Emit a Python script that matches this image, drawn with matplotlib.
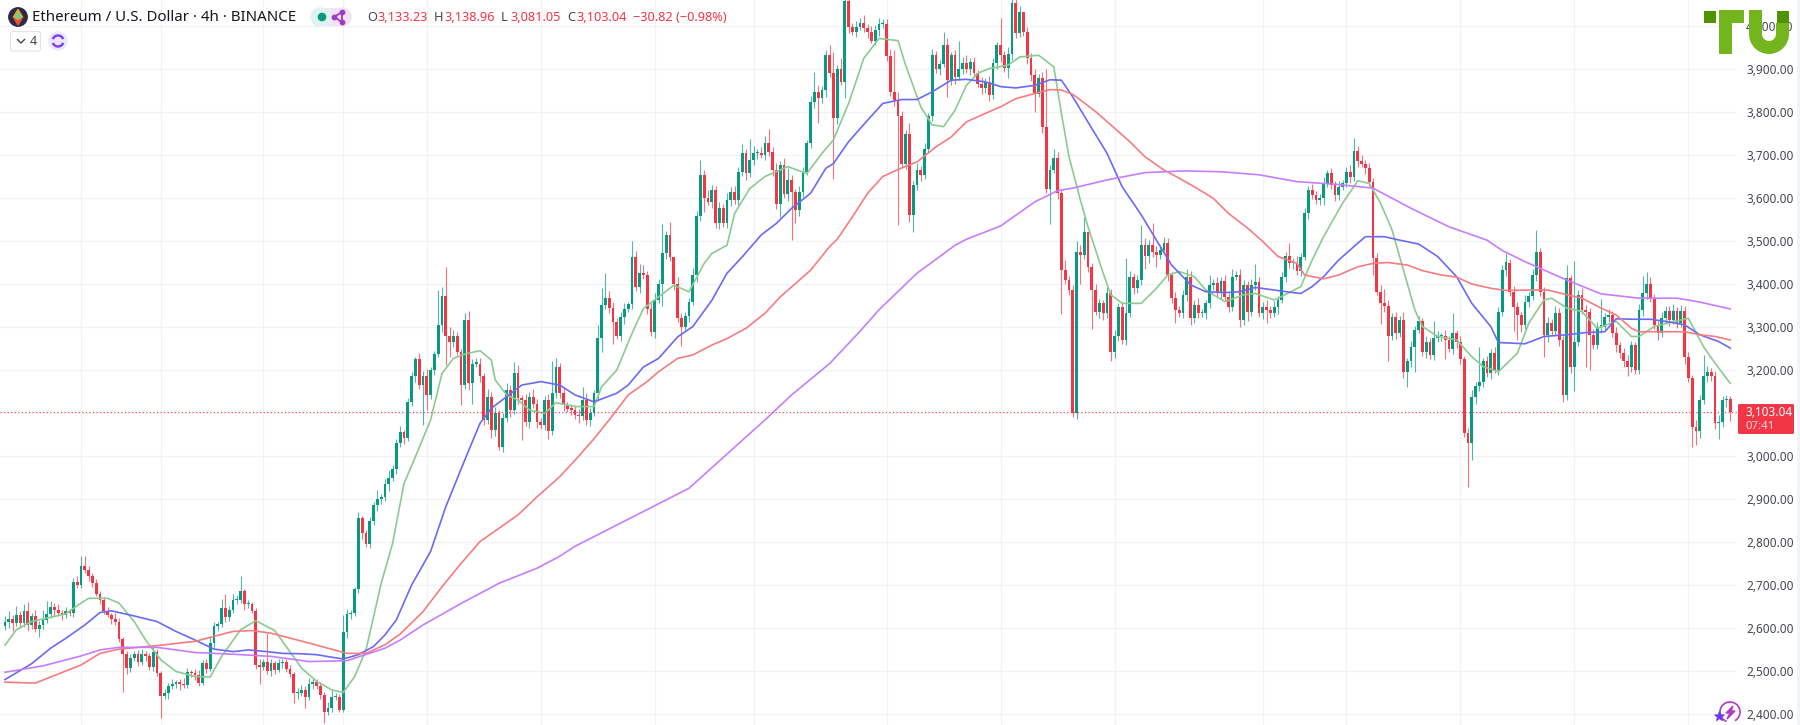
import matplotlib
matplotlib.use('Agg')
import matplotlib.pyplot as plt
from matplotlib import patches
import numpy as np

plt.rcParams['font.family'] = ['Noto Sans', 'DejaVu Sans']

# Candle closes by bar, open is the close before
closes = [
    2615,2622,2612,2630,2612,2640,2608,2628,2598,2608,
    2618,2632,2650,2642,2636,2630,2640,2636,2708,2700,
    2745,2735,2722,2705,2680,2665,2640,2630,2622,2615,
    2575,2540,2507,2530,2540,2520,2540,2535,2510,2545,
    2495,2442,2448,2465,2470,2475,2470,2467,2497,2495,
    2490,2473,2519,2505,2565,2605,2610,2646,2625,2642,
    2665,2665,2685,2655,2655,2640,2515,2510,2520,2500,
    2518,2503,2518,2522,2505,2492,2448,2450,2455,2440,
    2470,2475,2465,2445,2405,2415,2440,2440,2410,2590,
    2632,2635,2690,2855,2820,2795,2848,2885,2900,2905,
    2935,2950,2970,3030,3055,3042,3126,3185,3225,3165,
    3185,3142,3200,3238,3305,3372,3280,3265,3280,3243,
    3165,3316,3169,3215,3215,3185,3084,3138,3060,3100,
    3022,3088,3154,3107,3192,3135,3130,3080,3138,3120,
    3080,3072,3130,3057,3146,3208,3146,3119,3110,3108,
    3096,3092,3130,3084,3100,3146,3274,3352,3367,3345,
    3312,3280,3324,3343,3353,3463,3393,3425,3420,3343,
    3289,3363,3401,3471,3515,3463,3400,3320,3300,3325,
    3359,3421,3557,3654,3600,3591,3618,3541,3576,3541,
    3595,3615,3595,3661,3704,3657,3688,3704,3704,3700,
    3727,3708,3665,3587,3677,3610,3642,3615,3572,3615,
    3661,3727,3824,3847,3832,3851,3933,3890,3785,3900,
    3870,4057,3998,3987,3998,4006,3995,3987,3964,3991,
    4005,4005,3930,3847,3828,3790,3680,3750,3560,3630,
    3665,3653,3715,3790,3932,3900,3912,3955,3874,3932,
    3882,3900,3913,3900,3917,3890,3866,3855,3870,3840,
    3913,3955,3933,3902,3936,4053,3983,4033,3987,3925,
    3885,3843,3878,3766,3622,3665,3692,3611,3433,3410,
    3386,3099,3475,3468,3522,3440,3386,3335,3355,3332,
    3378,3243,3278,3347,3270,3332,3417,3390,3410,3491,
    3464,3491,3475,3468,3480,3495,3421,3367,3340,3332,
    3375,3417,3320,3351,3332,3332,3355,3398,3402,3378,
    3406,3370,3347,3417,3420,3316,3398,3336,3397,3405,
    3332,3347,3340,3332,3347,3363,3417,3464,3448,3448,
    3430,3463,3565,3619,3607,3595,3600,3634,3657,3630,
    3607,3626,3634,3661,3650,3710,3685,3680,3669,3638,
    3460,3382,3355,3349,3278,3324,3285,3316,3196,3220,
    3254,3293,3313,3243,3265,3235,3274,3278,3278,3270,
    3250,3285,3266,3225,3053,3030,3138,3162,3173,3220,
    3192,3240,3200,3336,3433,3450,3382,3347,3328,3305,
    3359,3371,3421,3475,3382,3282,3309,3290,3332,3270,
    3142,3413,3208,3266,3375,3340,3336,3282,3258,3301,
    3301,3324,3328,3285,3258,3239,3220,3208,3258,3200,
    3340,3378,3400,3367,3305,3285,3320,3338,3316,3338,
    3309,3338,3231,3181,3068,3057,3130,3185,3196,3185,
    3076,3080,3130,3133,3103,
]
first_open = 2605

# Ordinary wick sizes, one row for each twenty bars
wick_up = [
    12,18,8,22,10,15,20,6,14,9, 25,30,12,8,14,6,10,5,8,12,
    8,22,10,6,8,5,7,9,6,12, 8,5,6,10,7,9,12,6,8,14,
    6,4,10,8,12,5,7,14,9,6, 10,12,6,9,14,8,5,22,10,9,
    14,12,8,6,10,5,7,12,8,5, 10,6,9,5,7,8,6,10,12,9,
    14,8,6,10,7,12,15,9,6,40, 12,8,5,14,6,8,10,9,22,7,
    12,18,8,10,14,6,8,10,6,14, 12,18,8,6,15,10,12,20,14,8,
    6,16,9,10,14,12,8,18,10,14, 8,12,16,10,12,20,8,14,10,18,
    12,9,10,14,16,20,8,12,6,10, 10,14,8,16,12,8,30,12,10,16,
    14,8,10,12,6,12,14,8,20,10, 12,15,10,18,8,14,10,16,12,10,
    9,16,12,14,10,18,12,9,14,10, 16,10,14,12,8,10,12,16,9,14,
    8,12,10,16,9,15,10,12,6,14, 10,8,14,9,16,10,12,8,14,10,
    12,16,8,10,14,12,18,10,14,12, 14,8,12,16,10,18,12,9,14,10,
    16,10,12,8,14,9,10,12,16,8, 12,10,14,20,9,12,8,16,10,14,
    12,8,14,10,16,9,12,14,8,10, 12,16,10,14,8,12,10,14,9,12,
    8,12,14,10,12,16,8,14,10,8, 14,10,16,8,12,10,14,9,12,10,
    16,12,8,14,10,9,12,8,14,10, 12,10,14,12,16,9,8,12,10,14,
    10,14,8,12,10,16,12,9,14,8, 12,10,16,9,14,8,12,10,14,12,
    16,8,12,10,14,9,10,14,8,12, 10,14,9,12,16,8,10,14,8,12,
    9,12,16,10,14,8,12,10,16,9, 14,10,12,8,14,10,16,12,8,14,
    10,12,9,14,8,12,16,10,14,9, 12,8,14,10,12,16,9,14,10,8,
    16,10,14,12,8,10,14,9,16,12, 10,14,8,12,10,16,12,8,14,10,
    12,9,14,10,16,8,12,14,10,8, 14,12,9,16,10,8,14,12,10,16,
    9,14,10,12,8,16,12,10,14,8, 12,16,10,8,14,
]
wick_dn = [
    10,14,20,8,12,9,16,11,7,18, 10,6,8,14,9,12,6,8,10,6,
    8,7,12,9,6,10,8,5,12,9, 8,6,14,10,7,9,5,12,8,10,
    7,10,6,12,8,9,14,7,6,10, 12,8,6,10,5,9,12,7,10,8,
    6,9,7,12,8,6,10,14,8,7, 12,9,6,10,8,7,6,12,9,10,
    8,12,6,9,14,7,10,8,12,6, 14,10,8,9,12,6,10,8,14,12,
    9,16,8,12,10,14,8,10,12,9, 14,8,10,12,8,16,14,10,12,8,
    12,10,16,12,8,14,12,10,18,14, 9,12,8,16,10,14,12,10,16,8,
    14,10,12,18,9,12,10,14,8,12, 10,16,9,12,14,8,18,14,10,12,
    14,9,12,16,8,12,10,14,9,12, 10,14,8,16,12,10,14,8,12,10,
    14,8,16,10,12,8,14,10,12,9, 10,14,8,12,10,16,9,12,14,8,
    12,10,14,8,12,9,16,10,8,14, 12,8,10,14,9,12,16,8,10,14,
    8,12,14,9,12,8,10,16,12,8, 14,10,12,9,14,8,10,12,16,9,
    12,14,8,10,12,9,14,8,10,12, 16,8,12,10,14,9,8,12,10,14,
    9,12,16,8,10,14,12,8,10,14, 12,9,8,14,10,12,8,14,10,9,
    12,8,14,10,9,12,14,8,10,16, 12,8,14,10,9,12,8,14,10,12,
    8,14,12,10,9,8,14,12,10,8, 12,14,9,10,12,8,14,10,12,9,
    14,8,12,10,8,14,12,9,10,12, 8,14,10,12,9,16,8,12,10,14,
    10,12,8,14,9,10,12,16,8,10, 14,12,8,9,14,10,12,8,14,10,
    16,8,12,14,10,8,12,9,14,10, 12,16,8,10,14,9,12,8,10,14,
    8,12,14,10,9,12,8,16,10,12, 9,14,8,12,10,14,9,12,8,16,
    10,12,8,14,10,12,16,9,8,14, 10,12,14,8,10,9,16,12,8,10,
    14,9,12,8,16,10,14,8,12,10, 9,14,12,8,10,16,8,12,14,10,
    12,8,16,10,12,9,14,8,12,10, 14,8,12,16,9,
]

# Bars with a long wick, read one by one
tall_high_bars = [20,58,62,69,89,114,115,116,121,122,134,144,152,157,158,165,167,173,175,176,
                  183,194,196,200,201,206,213,216,217,218,220,226,231,234,238,247,251,262,268,274,
                  276,279,282,283,284,285,295,299,302,305,311,317,323,329,338,355,363,368,376,381,
                  388,395,403,411,413,420,431,432,447,454]
tall_high_vals = [2768,2680,2722,2588,2630,3386,3394,3440,3332,3337,3218,3222,3160,3390,3425,3500,3447,3540,3545,3445,
                  3688,3725,3737,3745,3760,3670,3893,3945,3955,3940,3925,4025,4017,3945,3775,3985,3965,4018,4020,3900,
                  3715,3455,3500,3490,3555,3465,3460,3538,3543,3510,3435,3420,3434,3447,3495,3740,3388,3336,3315,3333,
                  3253,3473,3525,3445,3453,3365,3418,3428,3234,3139]
tall_low_bars = [31,41,67,76,79,84,88,110,111,116,117,120,123,136,157,160,173,178,184,187,
                 203,204,207,208,214,218,221,228,235,239,248,264,271,275,278,283,286,288,291,300,
                 303,308,312,325,327,332,360,362,364,369,371,379,385,386,397,398,405,410,413,416,
                 417,427,444,445,451,454]
tall_low_vals = [2452,2390,2470,2425,2415,2378,2405,3072,3107,3212,3230,3118,3120,3037,3243,3260,3350,3255,3568,3530,
                 3575,3555,3503,3543,3775,3645,3832,3960,3537,3520,3835,3880,3800,3540,3330,3400,3295,3320,3220,3435,
                 3440,3310,3305,3300,3315,3310,3420,3308,3220,3160,3195,3225,2928,2990,3290,3270,3230,3125,3152,3208,
                 3200,3186,3020,3025,3040,3081]

# Moving averages, read at these bars
ma20_bars = [0,3,7,12,16,20,22,27,30,34,37,41,45,50,54,57,62,66,71,74,78,82,86,89,92,95,99,102,105,108,
             112,115,118,121,125,128,129,132,135,138,142,145,150,155,157,161,165,168,172,176,180,184,186,190,192,196,200,206,211,215,
             218,222,226,230,235,237,241,244,247,250,253,256,259,264,267,272,276,278,280,283,285,287,289,291,294,299,303,306,309,313,
             316,321,326,329,334,336,341,344,347,350,352,356,359,362,365,368,371,373,377,382,386,389,393,398,401,405,407,411,415,419,
             424,428,430,434,439,443,447,450,454]
ma20_vals = [2560,2596,2615,2625,2633,2658,2669,2669,2658,2615,2572,2526,2499,2487,2486,2534,2596,2617,2594,2557,2507,2476,2456,2450,2487,2549,2704,2797,2936,2998,
             3084,3192,3227,3237,3245,3223,3177,3142,3130,3107,3099,3124,3115,3115,3161,3200,3285,3343,3370,3397,3382,3448,3471,3490,3564,3622,3650,3673,3657,3704,
             3735,3820,3925,3971,3966,3909,3812,3770,3766,3804,3862,3890,3901,3909,3928,3932,3905,3797,3696,3595,3533,3479,3425,3375,3355,3355,3390,3421,3429,3417,
             3386,3359,3375,3378,3363,3371,3394,3456,3510,3557,3588,3640,3634,3588,3526,3433,3340,3301,3278,3270,3231,3208,3196,3239,3309,3363,3367,3344,3336,3297,
             3313,3278,3278,3301,3313,3320,3254,3216,3169]
ma50_bars = [0,7,12,16,21,25,28,34,40,45,50,55,60,64,69,73,78,82,86,89,93,97,100,103,107,112,116,121,125,128,
             132,136,141,146,150,155,161,164,168,172,177,181,186,190,194,199,203,207,212,216,218,222,227,231,236,240,244,249,253,258,
             262,266,271,275,278,281,286,290,294,299,303,307,312,316,321,325,329,334,338,341,344,347,351,356,358,363,367,372,377,382,
             386,391,393,400,405,411,416,421,424,429,433,437,442,446,451,454]
ma50_vals = [2480,2517,2553,2576,2607,2636,2640,2628,2615,2592,2572,2551,2545,2549,2545,2541,2540,2538,2532,2528,2538,2557,2584,2619,2700,2778,2882,2991,3076,3111,
             3138,3165,3173,3165,3142,3126,3146,3165,3207,3227,3277,3301,3362,3425,3463,3514,3541,3576,3611,3669,3680,3731,3781,3820,3829,3829,3847,3874,3876,3870,
             3859,3856,3862,3875,3874,3835,3762,3704,3626,3561,3502,3444,3398,3382,3380,3382,3392,3386,3381,3378,3394,3417,3456,3495,3510,3510,3502,3493,3464,3417,
             3355,3301,3264,3261,3278,3282,3287,3289,3319,3318,3318,3313,3305,3282,3266,3251]
ma100_bars = [0,8,20,25,30,40,50,60,65,70,80,90,95,100,104,110,115,120,125,130,135,140,146,150,155,159,164,169,172,177,
              181,186,190,195,200,204,208,212,217,219,223,227,231,236,240,245,249,253,257,262,266,271,275,278,281,283,287,291,296,300,
              305,309,313,318,322,327,331,335,340,342,347,351,356,360,364,369,373,378,382,386,391,395,402,406,411,415,420,424,428,430,
              437,442,446,450,454]
ma100_vals = [2474,2472,2514,2541,2551,2559,2569,2592,2594,2588,2565,2541,2541,2561,2586,2638,2696,2750,2801,2832,2863,2905,2952,2990,3040,3084,3142,3173,3196,3227,
              3235,3258,3273,3297,3332,3370,3401,3432,3487,3504,3556,3611,3650,3670,3684,3719,3742,3777,3793,3812,3831,3843,3852,3851,3841,3828,3801,3770,3731,3696,
              3665,3646,3626,3599,3564,3530,3499,3464,3448,3421,3412,3421,3440,3448,3450,3444,3431,3421,3416,3400,3390,3385,3386,3386,3375,3367,3344,3328,3297,3289,
              3289,3289,3282,3278,3270]
ma200_bars = [0,10,20,25,30,40,50,60,70,80,90,100,104,110,120,130,140,146,150,180,200,207,217,225,230,240,250,253,262,271,
              277,281,290,300,310,320,330,340,350,360,370,380,390,394,400,410,420,430,440,446,454]
ma200_vals = [2497,2512,2535,2549,2555,2555,2543,2539,2534,2522,2524,2553,2572,2607,2657,2704,2739,2767,2790,2925,3084,3142,3215,3290,3340,3425,3490,3504,3535,3591,
              3617,3623,3642,3659,3663,3661,3654,3638,3632,3623,3576,3533,3502,3478,3452,3413,3377,3367,3367,3358,3342]

price_ticks = [2400,2500,2600,2700,2800,2900,3000,3100,3200,3300,3400,3500,3600,3700,3800,3900,4000]
grid_bars = [20,41,68,89,111,141,171,197,232,262,292,331,353,383,413,443]
last_price = 3103.04

UP = '#089981'
DOWN = '#F23645'
GRID = '#F2F3F5'
TEXT = '#434651'

closes = np.array(closes, dtype=float)
opens = np.r_[first_open, closes[:-1]]
highs = np.maximum(opens, closes) + np.array(wick_up[:len(closes)])
lows = np.minimum(opens, closes) - np.array(wick_dn[:len(closes)])
highs[tall_high_bars] = tall_high_vals
lows[tall_low_bars] = tall_low_vals
bars = np.arange(len(closes))
cols = np.where(closes >= opens, UP, DOWN)

fig = plt.figure(figsize=(18, 7.25), dpi=100, facecolor='white')
ax = fig.add_axes([0, 0, 1737/1800, 1])
ax.set_xlim(-5/3.8, 1732/3.8)
ax.set_ylim(3900 - 656/0.43, 3900 + 69/0.43)
for s in ax.spines.values():
    s.set_visible(False)
ax.yaxis.tick_right()
# the price tag covers the 3,100 label
ax.set_yticks(price_ticks, ['' if p == 3100 else f'{p:,.2f}' for p in price_ticks])
ax.set_xticks(grid_bars, [])
ax.tick_params(length=0, pad=6.5, labelsize=8.5, labelcolor=TEXT)
ax.grid(True, color=GRID, lw=0.9)
ax.set_axisbelow(True)

# candles
ax.vlines(bars, lows, highs, colors=cols, lw=0.8, alpha=0.7, zorder=2)
ax.bar(bars, np.maximum(np.abs(closes-opens), 2.5), bottom=np.minimum(opens, closes),
       width=0.76, color=cols, lw=0, zorder=3)

# moving averages
ax.plot(ma20_bars, ma20_vals, color='#8CCB90', lw=1.2, zorder=4)
ax.plot(ma50_bars, ma50_vals, color='#6A6AF5', lw=1.2, zorder=4)
ax.plot(ma100_bars, ma100_vals, color='#F77C80', lw=1.2, zorder=4)
ax.plot(ma200_bars, ma200_vals, color='#C77DFF', lw=1.2, zorder=4)

ax.axhline(last_price, color=DOWN, lw=0.8, ls=(0, (1, 2.2)), zorder=5)

# header, badges and logo sit in a pixel overlay
top = fig.add_axes([0, 0, 1, 1], facecolor='none')
top.set_xlim(0, 1800)
top.set_ylim(725, 0)
top.axis('off')

# ETH icon
top.add_patch(patches.Circle((18, 17), 9.2, color='#2C2A4A'))
top.add_patch(patches.Polygon([(18, 9.5), (22.5, 17), (18, 20), (13.5, 17)], color='#F5A623'))
top.add_patch(patches.Polygon([(14, 18.5), (18, 25), (22, 18.5), (18, 21)], color='#E8503A'))
top.add_patch(patches.Polygon([(18, 12.5), (20.5, 17), (18, 18.5), (15.5, 17)], color='#6FCF97'))

top.text(32, 17, 'Ethereum / U.S. Dollar · 4h · BINANCE', fontsize=10.8, color='#131722', va='center', ha='left')

# status pill
top.add_patch(patches.Circle((320, 17), 9, color='#E0F3EF'))
top.add_patch(patches.Rectangle((320, 8), 11, 18, color='#E0F3EF', lw=0))
top.add_patch(patches.Circle((342, 17), 9, color='#F1E2F5'))
top.add_patch(patches.Rectangle((331, 8), 11, 18, color='#F1E2F5', lw=0))
top.add_patch(patches.Circle((322, 17), 3.6, color=UP))
top.plot([342, 334, 342, 342], [12, 17, 22, 12], color='#A13BC4', lw=1.3)
top.scatter([342, 334, 342], [12, 17, 22], s=10, color='#A13BC4', zorder=5)

# OHLC values
ohlc_labels = ['O', 'H', 'L', 'C']
ohlc_vals = ['3,133.23', '3,138.96', '3,081.05', '3,103.04']
ohlc_label_x = [367, 434, 501, 567]
ohlc_val_x = [377, 444, 510, 576]
for lab, val, lx, vx in zip(ohlc_labels, ohlc_vals, ohlc_label_x, ohlc_val_x):
    top.text(lx, 17, lab, fontsize=9.2, color=TEXT, va='center', ha='left')
    top.text(vx, 17, val, fontsize=9.2, color=DOWN, va='center', ha='left')
top.text(633, 17, '−30.82 (−0.98%)', fontsize=9.2, color=DOWN, va='center', ha='left')

# collapsed indicators button
top.add_patch(patches.FancyBboxPatch((10.5, 31.5), 30, 19.5, boxstyle='round,pad=0,rounding_size=2.5',
                                     fc='white', ec='#E0E3EB', lw=0.8))
top.plot([17.5, 21, 24.5], [39.5, 43, 39.5], color=TEXT, lw=1)
top.text(33, 41, '4', fontsize=9, color=TEXT, va='center', ha='center')
top.add_patch(patches.Circle((58, 41), 9, color='#EEE6FB'))
top.add_patch(patches.Arc((58, 41), 11, 11, theta1=20, theta2=160, color='#7B3FF2', lw=1.7))
top.add_patch(patches.Arc((58, 41), 11, 11, theta1=200, theta2=340, color='#7B3FF2', lw=1.7))

# price tag
top.add_patch(patches.FancyBboxPatch((1738, 404), 56, 30, boxstyle='round,pad=0,rounding_size=1.5', color=DOWN, lw=0))
top.text(1746, 412, '3,103.04', fontsize=8.5, color='white', va='center', ha='left')
top.text(1746, 426, '07:41', fontsize=8.2, color='#FBD5D9', va='center', ha='left')

# TU logo
LOGO = '#72B51D'
LOGO_DK = '#4F9400'
top.add_patch(patches.Rectangle((1704, 11), 12, 12, color=LOGO_DK, lw=0))
top.add_patch(patches.Rectangle((1719, 10), 25, 13, color=LOGO, lw=0))
top.add_patch(patches.Rectangle((1719, 10), 13, 44, color=LOGO, lw=0))
top.add_patch(patches.Rectangle((1749, 10), 13, 24, color=LOGO, lw=0))
top.add_patch(patches.Rectangle((1776, 23), 13, 11, color=LOGO, lw=0))
top.add_patch(patches.Rectangle((1777, 11), 12, 12, color=LOGO_DK, lw=0))
top.add_patch(patches.Wedge((1769, 34), 20, 0, 180, width=13, color=LOGO, lw=0))

# bolt badge
top.add_patch(patches.Arc((1730, 712), 20, 20, theta1=-250, theta2=60, color='#B23CC8', lw=1.2))
top.add_patch(patches.Polygon([(1733, 706), (1726, 713), (1730, 713), (1727, 719), (1735, 711), (1731, 711)], color='#B23CC8'))
top.scatter([1719], [716], marker='*', s=45, color='#6A3DF0', zorder=6)

# card edge
top.add_patch(patches.Rectangle((1797, 0), 3, 725, color='#F0F3FA', lw=0))

fig.savefig('out.png', dpi=100)
